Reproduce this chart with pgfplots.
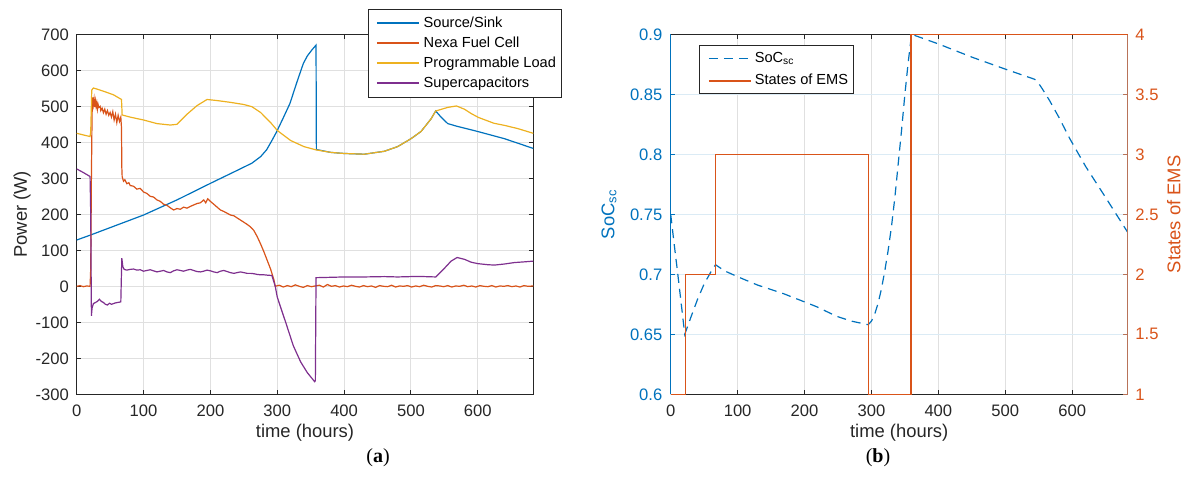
\documentclass[border=0pt]{standalone}
\usepackage{fontspec}
\setmainfont{Liberation Sans}
\newfontfamily\capfont{Liberation Serif}
\usepackage{pgfplots}
\pgfplotsset{compat=1.18}
\definecolor{mblue}{rgb}{0,0.447,0.741}
\definecolor{morange}{rgb}{0.85,0.325,0.098}
\definecolor{myellow}{rgb}{0.929,0.694,0.125}
\definecolor{mpurple}{rgb}{0.494,0.184,0.556}
\definecolor{axc}{rgb}{0.15,0.15,0.15}
\definecolor{gridc}{rgb}{0.88,0.88,0.88}
\definecolor{bgridc}{rgb}{0.86,0.92,0.96}
\definecolor{spinec}{rgb}{0.72,0.45,0.35}

\pgfplotsset{
  base/.style={
    scale only axis, height=180pt,
    xmin=0, xmax=683,
    xtick={0,100,200,300,400,500,600},
    tick align=inside,
    major tick length=2.2pt,
    tick style={color=axc, line width=0.5pt},
    axis line style={color=axc, line width=0.5pt},
    tick label style={font=\fontsize{8.3}{10}\selectfont, color=axc},
    /pgf/number format/assume math mode=true,
    label style={font=\fontsize{9.2}{11}\selectfont, color=axc},
    xticklabel style={inner sep=0pt, anchor=north, yshift=-5.3pt},
    yticklabel style={inner sep=0pt, anchor=east, xshift=-3.7pt},
    xlabel={time (hours)},
    xlabel style={at={(axis description cs:0.5,-0.1075)}, anchor=center},
    every axis plot/.append style={line width=0.6pt},
  },
}

\pgfplotstableread{
t w
0 128.6
20 142
60 170
100 198
150 240
200 286
240 322
262 342
275 360
284 379
292 405
299 429
309 468
319 508
329 565
339 619
345 640
352 657
358 670
358.5 380
380 372
400 369
430 367
460 375
480 388
500 410
515 430
530 465
537 487
545 470
555 452
568 445
600 430
640 410
683 383
}\source

\pgfplotstableread{
t w
0 425
20 416
21 430
22.5 545
25 551
40 542
55 532
67 519
68 476
80 470
100 462
120 452
140 448
150 450
165 478
180 502
195 519
210 516
230 511
250 505
262 499
275 483
290 455
300 433
320 405
340 388
358 379
380 372
400 369
430 367
460 375
480 388
500 410
515 430
530 465
537 487
555 497
568 501
580 492
590 480
601 469
624 453
640 447
660 438
683 425
}\load

\pgfplotstableread{
t w
0 0
5 2
10 -1
15 1
20 0
21 50
22 300
23 480
24 525
25 505
26 520
27 498
28 515
29 500
30 510
31 492
32 505
33 497
35 500
36 488
38 495
40 482
42 492
44 478
46 488
48 475
50 483
52 470
54 485
56 462
58 478
60 455
62 475
64 458
66 470
67 440
67.5 330
68 305
70 292
72 296
75 285
78 288
80 280
85 278
90 270
95 272
100 262
105 258
110 250
115 248
120 240
125 236
130 228
135 225
140 218
145 212
150 216
155 214
160 220
165 217
170 222
175 226
180 230
185 232
190 240
193 232
196 243
200 236
205 228
210 220
215 212
220 208
225 203
230 198
235 196
240 190
245 184
250 178
255 172
260 165
265 155
270 138
275 118
280 96
285 72
290 48
295 18
297 0
303 3
309 -2
315 2
321 -1
327 4
333 0
339 -3
345 2
351 -1
357 1
363 3
369 -2
375 5
381 0
387 2
393 -2
399 1
405 -1
411 3
417 0
423 -2
429 2
435 -1
441 1
447 -3
453 2
459 0
465 -1
471 3
477 -2
483 1
489 0
495 2
501 -2
507 1
513 -1
519 3
525 0
531 -2
537 2
543 1
549 -1
555 2
561 -2
567 1
573 0
579 3
585 -1
591 1
597 -2
603 2
609 0
615 -1
621 2
627 -2
633 1
639 0
645 2
651 -1
657 1
663 -2
669 2
675 0
683 1
}\fuel

\pgfplotstableread{
t w
0 326
10 316
20 305
21 200
22 -82
23 -60
25 -48
28 -45
31 -42
34 -36
37 -42
40 -45
43 -50
46 -52
49 -47
52 -50
55 -48
58 -46
61 -45
64 -44
66 -43
67 40
67.5 78
69 55
71 47
75 45
80 47
85 48
90 45
95 46
100 42
105 44
110 46
115 43
120 40
125 42
130 44
135 40
140 38
145 43
150 46
155 44
160 42
165 45
170 47
175 44
180 41
185 40
190 42
195 45
200 43
205 40
210 38
215 42
220 44
225 41
230 38
235 36
240 38
245 40
250 38
255 36
260 36
265 35
270 33
275 32
280 32
285 31
292 30
297 0
300 -30
305 -58
314 -108
324 -165
335 -210
345 -240
356 -265
357 -262
358 24
380 25
400 26
430 26
460 27
480 26
500 27
520 27
537 26
550 50
560 70
569 80
580 75
590 67
600 63
615 60
625 59
640 62
655 66
670 68
683 70
}\scap

\pgfplotstableread{
t s
0 0.75
5 0.726
10 0.703
15 0.679
21 0.65
30 0.664
40 0.679
50 0.692
60 0.702
67 0.708
80 0.703
100 0.698
130 0.691
168 0.684
200 0.677
218 0.673
248 0.665
270 0.661
295 0.658
300 0.661
305 0.667
310 0.676
315 0.688
320 0.703
325 0.72
330 0.74
335 0.764
340 0.792
345 0.82
350 0.85
355 0.877
360 0.9
400 0.892
450 0.881
500 0.871
544 0.8625
550 0.859
556 0.854
566 0.845
580 0.831
596 0.8135
620 0.79
650 0.764
683 0.735
}\soc

\pgfplotstableread{
t e
0 1
22 1
22 2
67.5 2
67.5 3
296 3
296 1
359 1
359 4
683 4
}\ems

\begin{document}
\begin{tikzpicture}
\useasboundingbox (0,0) rectangle (593pt,242pt);

% ---------- (a) ----------
\begin{axis}[base,
  at={(38.35pt,44.85pt)}, anchor=south west, width=228.3pt,
  ymin=-300, ymax=700,
  ytick={-300,-200,-100,0,100,200,300,400,500,600,700},
  grid=major, major grid style={color=gridc, line width=0.5pt},
  ylabel={Power (W)},
  ylabel style={at={(axis description cs:-0.1198,0.5)}, anchor=center},
  legend style={at={(0.638,1.07)}, anchor=north west, draw=axc, line width=0.5pt,
    fill=white, font=\fontsize{7.3}{8}\selectfont, inner xsep=2.7pt, inner ysep=3.35pt,
    row sep=3pt, cells={anchor=west},
    nodes={inner sep=0pt, text height=5.5pt, text depth=1.5pt}},
  legend image code/.code={\draw[#1, line width=0.75pt] (0pt,0.25pt) -- (21pt,0.25pt);
    \path[draw=none, fill=none] (-1.5pt,-3.5pt) rectangle (23.4pt,3.5pt);},
]
\addplot[mblue] table[x=t,y=w] {\source};
\addlegendentry{Source/Sink}
\addplot[morange] table[x=t,y=w] {\fuel};
\addlegendentry{Nexa Fuel Cell}
\addplot[myellow] table[x=t,y=w] {\load};
\addlegendentry{Programmable Load}
\addplot[mpurple] table[x=t,y=w] {\scap};
\addlegendentry{Supercapacitors}
\end{axis}

% ---------- (b) left axis ----------
\begin{axis}[base,
  at={(335.35pt,44.85pt)}, anchor=south west, width=228.5pt,
  ymin=0.6, ymax=0.9,
  ytick={0.6,0.65,0.7,0.75,0.8,0.85,0.9},
  ytick pos=left,
  separate axis lines,
  y axis line style={color=mblue},
  y tick style={color=mblue},
  yticklabel style={color=mblue, xshift=-0.3pt},
  xmajorgrids, ymajorgrids,
  major x grid style={color=gridc, line width=0.5pt},
  major y grid style={color=bgridc, line width=0.5pt},
  ylabel={SoC\textsubscript{sc}},
  ylabel style={color=mblue, at={(axis description cs:-0.135,0.5)}, anchor=center},
]
\addplot[mblue, dash pattern=on 4.5pt off 3pt] table[x=t,y=s] {\soc};
\end{axis}

% ---------- (b) right axis ----------
\begin{axis}[
  scale only axis, height=180pt, width=228.5pt,
  at={(335.35pt,44.85pt)}, anchor=south west,
  xmin=0, xmax=683, ymin=1, ymax=4,
  axis x line=none, axis y line*=right,
  ytick={1,1.5,2,2.5,3,3.5,4},
  tick align=inside, major tick length=2.2pt,
  y axis line style={color=spinec, line width=0.5pt},
  y tick style={color=spinec, line width=0.5pt},
  tick label style={font=\fontsize{8.3}{10}\selectfont},
  /pgf/number format/assume math mode=true,
  yticklabel style={color=morange, inner sep=0pt, anchor=west, xshift=3.65pt},
  ylabel={States of EMS},
  ylabel style={font=\fontsize{9.2}{11}\selectfont, color=morange, at={(axis description cs:1.1007,0.5)}, anchor=center},
  clip=false,
  legend style={at={(0.0626,0.9703)}, anchor=north west, draw=axc, line width=0.5pt,
    fill=white, font=\fontsize{7.3}{8}\selectfont, inner xsep=2.8pt, inner ysep=2.9pt,
    row sep=4.35pt, cells={anchor=west},
    nodes={inner sep=0pt, text height=5.5pt, text depth=1.5pt}},
  legend image code/.code={\draw[#1, line width=0.6pt] (0pt,0pt) -- (21pt,0pt);
    \path[draw=none, fill=none] (-1.7pt,-3.5pt) rectangle (23pt,3.5pt);},
]
\addlegendimage{mblue, dash pattern=on 4.5pt off 3pt}
\addlegendentry{SoC\textsubscript{sc}}
\addplot[morange, line width=0.6pt] table[x=t,y=e] {\ems};
\addlegendentry{States of EMS}
\end{axis}

\node[font=\capfont\fontsize{10}{12}\selectfont, text=black] at (189pt,13pt) {(\textbf{a})};
\node[font=\capfont\fontsize{10}{12}\selectfont, text=black] at (439pt,13pt) {(\textbf{b})};
\end{tikzpicture}
\end{document}
